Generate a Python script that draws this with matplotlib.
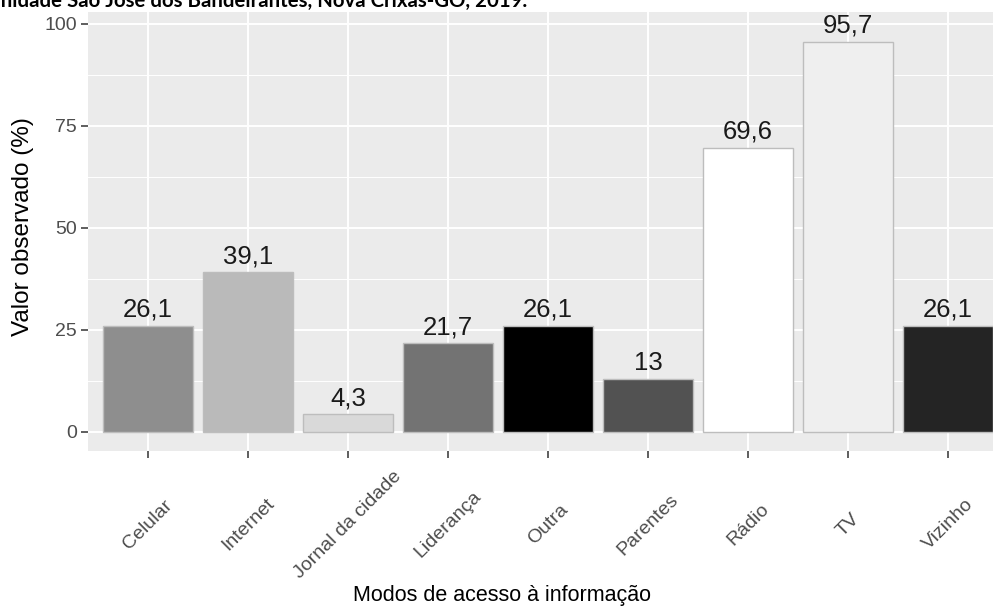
import matplotlib.pyplot as plt

plt.rcParams["font.family"] = ["Liberation Sans", "DejaVu Sans"]

categorias = ["Celular", "Internet", "Jornal da cidade", "Liderança", "Outra",
              "Parentes", "Rádio", "TV", "Vizinho"]
valores = [26.1, 39.1, 4.3, 21.7, 26.1, 13, 69.6, 95.7, 26.1]
cores = ["#8e8e8e", "#bababa", "#d9d9d9", "#737373", "#000000",
         "#525252", "#ffffff", "#efefef", "#242424"]
yticks = [0, 25, 50, 75, 100]

W, H = 993, 615
fig = plt.figure(figsize=(W / 100, H / 100), dpi=100)
ax = fig.add_axes([88 / W, 1 - 451 / H, (W - 88) / W, (451 - 12) / H])
ax.set_facecolor("#ebebeb")

pos = list(range(1, len(categorias) + 1))
bars = ax.bar(pos, valores, width=0.9, color=cores, edgecolor="#bdbdbd",
              linewidth=1.0, zorder=3)

for x, v in zip(pos, valores):
    ax.annotate(f"{v:g}".replace(".", ","), (x, v), xytext=(0, 6.5),
                textcoords="offset points", ha="center", va="baseline",
                fontsize=18.5, color="#1a1a1a", zorder=4)

ax.set_xlim(0.4, 9.45)
ax.set_ylim(-4.66, 102.94)
ax.set_yticks(yticks)
ax.set_yticks([12.5, 37.5, 62.5, 87.5], minor=True)
ax.set_xticks(pos)
ax.set_xticklabels(categorias, rotation=45, ha="center", va="center")

ax.grid(True, which="major", color="white", linewidth=1.4, zorder=0)
ax.grid(True, which="minor", axis="y", color="white", linewidth=0.7, zorder=0)
ax.set_axisbelow(True)
for s in ax.spines.values():
    s.set_visible(False)

ax.tick_params(axis="y", which="major", length=5, width=1.1, color="#333333",
               labelsize=14, labelcolor="#4d4d4d", pad=3)
ax.tick_params(axis="x", which="major", length=5, width=1.1, color="#333333",
               labelsize=14, labelcolor="#4d4d4d", pad=48)
ax.tick_params(which="minor", length=0)

fig.text(23 / W, 1 - 227 / H, "Valor observado (%)", rotation=90,
         ha="center", va="center", fontsize=17.5, color="black")
fig.text(502 / W, 1 - 595 / H, "Modos de acesso à informação",
         ha="center", va="center", fontsize=15.5, color="black")

fig.text(527 / W, 1 - 7 / H,
         "na comunidade São José dos Bandeirantes, Nova Crixás-GO, 2019.",
         ha="right", va="baseline", fontsize=14.7, fontweight="bold",
         family=["Lato", "DejaVu Sans"])

fig.savefig("out.png", dpi=100)
